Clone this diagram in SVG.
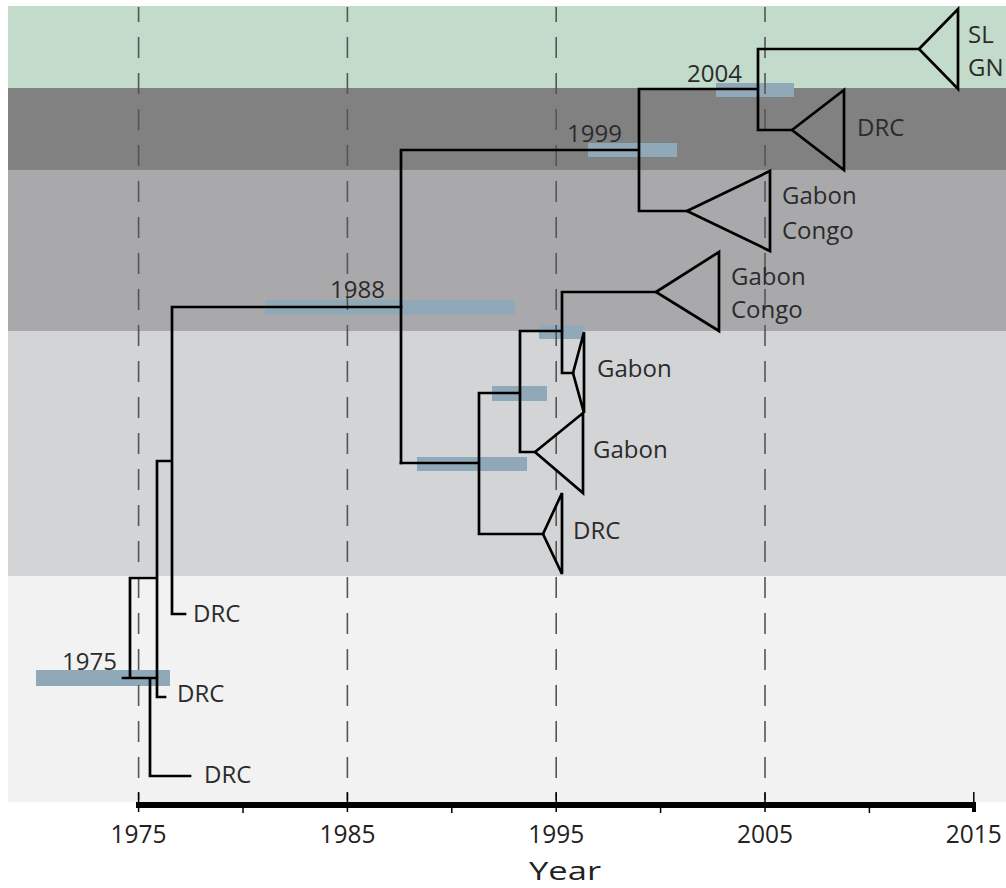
<svg xmlns="http://www.w3.org/2000/svg" width="1006" height="888" viewBox="0 0 1006 888">
<style>
.t{font-family:"Open Sans","Noto Sans",sans-serif;font-size:24px;fill:#2b2b2b}
.ax{font-family:"Open Sans","Noto Sans",sans-serif;font-size:25px;fill:#222;text-anchor:middle}
.ln{fill:none;stroke:#000;stroke-width:2.7;stroke-linecap:square}
.tri{fill:none;stroke:#000;stroke-width:2.7;stroke-linejoin:miter}
.bar{fill:#90a9b9}
.dash{stroke:#555;stroke-width:1.6;stroke-dasharray:21 15;stroke-dashoffset:6}
</style>
<rect width="1006" height="888" fill="#fff"/>
<g id="bands">
<rect x="8" y="6" width="998" height="82" fill="#c2dbca"/>
<rect x="8" y="88" width="998" height="82" fill="#818182"/>
<rect x="8" y="170" width="998" height="161" fill="#a9a9ab"/>
<rect x="8" y="331" width="998" height="245" fill="#d3d4d6"/>
<rect x="8" y="576" width="998" height="226" fill="#f2f2f2"/>
</g>
<g id="bars">
<rect class="bar" x="36" y="670" width="134" height="16"/>
<rect class="bar" x="265" y="300" width="250" height="15"/>
<rect class="bar" x="588" y="143" width="89" height="14"/>
<rect class="bar" x="716" y="83" width="78" height="14"/>
<rect class="bar" x="417" y="457" width="110" height="14"/>
<rect class="bar" x="492" y="386" width="55" height="15"/>
<rect class="bar" x="539" y="325" width="44" height="14"/>
</g>
<g id="gridlines">
<line class="dash" x1="138.6" y1="7" x2="138.6" y2="800"/>
<line class="dash" x1="347.4" y1="7" x2="347.4" y2="800"/>
<line class="dash" x1="556.2" y1="7" x2="556.2" y2="800"/>
<line class="dash" x1="765" y1="7" x2="765" y2="800"/>
</g>
<g id="connectors">
<path class="ln" d="M123,678 H157 M150,678 V776 H190 M130,678 V578 H157 M157,461 V697 H165 M157,461 H172 M172,307 V614 H185 M172,307 H401"/>
<path class="ln" d="M401,150 V463 M401,150 H639 M639,89 V211 M639,89 H758 M758,49 V130 M758,49 H919 M758,130 H792 M639,211 H687"/>
<path class="ln" d="M401,463 H479 M479,393 V534 M479,534 H543 M479,393 H520 M520,331 V452 M520,452 H535 M520,331 H562 M562,292 V373 M562,292 H656 M562,373 H573"/>
</g>
<g id="node-1975"><text class="t" x="62" y="670">1975</text></g>
<g id="node-1988"><text class="t" x="330" y="298">1988</text></g>
<g id="node-1999"><text class="t" x="567" y="142">1999</text></g>
<g id="node-2004"><text class="t" x="687" y="82">2004</text></g>
<g id="clade-slgn">
<polygon class="tri" points="919,49 958,9 958,89"/>
<text class="t" x="968" y="43">SL</text>
<text class="t" x="968" y="76">GN</text>
</g>
<g id="clade-drc-top">
<polygon class="tri" points="792,130 844,90 844,170"/>
<text class="t" x="857" y="136">DRC</text>
</g>
<g id="clade-gabon-congo-1">
<polygon class="tri" points="687,211 770,171 770,251"/>
<text class="t" x="782" y="204">Gabon</text>
<text class="t" x="782" y="239">Congo</text>
</g>
<g id="clade-gabon-congo-2">
<polygon class="tri" points="656,292 719,252 719,331"/>
<text class="t" x="731" y="285">Gabon</text>
<text class="t" x="731" y="318">Congo</text>
</g>
<g id="clade-gabon-1">
<polygon class="tri" points="573,373 584,332 584,413"/>
<text class="t" x="597" y="377">Gabon</text>
</g>
<g id="clade-gabon-2">
<polygon class="tri" points="535,452 583,413 583,493"/>
<text class="t" x="593" y="458">Gabon</text>
</g>
<g id="clade-drc-mid">
<polygon class="tri" points="543,534 562,493 562,574"/>
<text class="t" x="573" y="539">DRC</text>
</g>
<g id="leaf-drc-1"><text class="t" x="193" y="622">DRC</text></g>
<g id="leaf-drc-2"><text class="t" x="177" y="702">DRC</text></g>
<g id="leaf-drc-3"><text class="t" x="204" y="783">DRC</text></g>
<g id="axis">
<rect x="136" y="802" width="840" height="6" fill="#000"/>
<rect x="972" y="802" width="4" height="10" fill="#000"/>
<path stroke="#000" stroke-width="1.5" d="M138.6,792 V812 M347.4,792 V812 M556.2,792 V812 M765,792 V812 M973.8,792 V812 M243,808 V813 M451.8,808 V813 M660.6,808 V813 M869.4,808 V813"/>
<text class="ax" x="138.6" y="843" textLength="56" lengthAdjust="spacingAndGlyphs">1975</text>
<text class="ax" x="347.4" y="843" textLength="56" lengthAdjust="spacingAndGlyphs">1985</text>
<text class="ax" x="556.2" y="843" textLength="56" lengthAdjust="spacingAndGlyphs">1995</text>
<text class="ax" x="765" y="843" textLength="56" lengthAdjust="spacingAndGlyphs">2005</text>
<text class="ax" x="973.8" y="843" textLength="56" lengthAdjust="spacingAndGlyphs">2015</text>
<text class="ax" x="565" y="880" style="font-size:26px" textLength="72" lengthAdjust="spacingAndGlyphs">Year</text>
</g>
</svg>
